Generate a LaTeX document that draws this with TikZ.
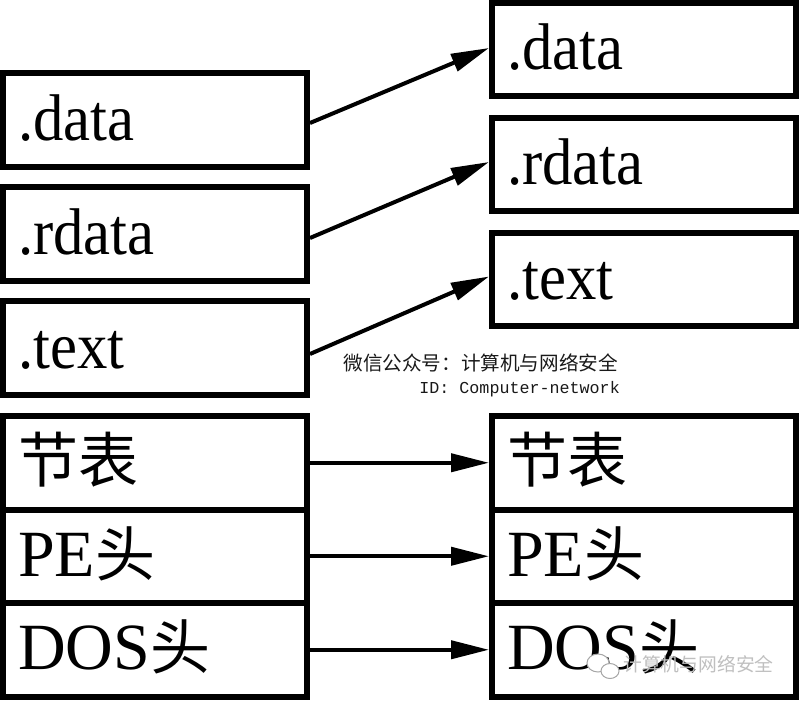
\documentclass[tikz,border=0pt]{standalone}
\usepackage{fontspec}
\setmainfont{Liberation Serif}
\setmonofont{Liberation Mono}
\newfontfamily\cjk{Noto Sans CJK SC}
\newfontfamily\narrowserif[FakeStretch=0.92]{Liberation Serif}
\usetikzlibrary{arrows.meta}
\newcommand\zhtxt[1]{{\cjk\fontsize{60}{60}\selectfont #1}}
\newcommand\sectxt[1]{{\narrowserif #1}}
\begin{document}
\begin{tikzpicture}[x=1pt,y=-1pt,
  box/.style={draw, line width=6pt, minimum width=304pt, minimum height=93.5pt,
    inner xsep=15pt, inner ysep=0pt, text width=274pt, align=left,
    text height=46pt, text depth=6pt, font=\fontsize{66}{66}\selectfont},
  link/.style={line width=4pt, -{Triangle[length=38pt,width=18pt]}},
  wmark/.style={inner sep=0pt, text=black!90}]
\useasboundingbox (0,0) rectangle (799,701);
% left column
\node[box] (ldata)  at (155,120)    {\sectxt{.data}};
\node[box] (lrdata) at (155,234)    {\sectxt{.rdata}};
\node[box] (ltext)  at (155,348)    {\sectxt{.text}};
\node[box] (lsec)   at (155,462.75) {\zhtxt{节表}};
\node[box] (lpe)    at (155,556.25) {PE\zhtxt{头}};
\node[box] (ldos)   at (155,649.75) {DOS\zhtxt{头}};
% right column
\node[box] (rdata)  at (644,49.5)   {\sectxt{.data}};
\node[box] (rrdata) at (644,164.5)  {\sectxt{.rdata}};
\node[box] (rtext)  at (644,279.5)  {\sectxt{.text}};
\node[box] (rsec)   at (644,462.75) {\zhtxt{节表}};
\node[box] (rpe)    at (644,556.25) {PE\zhtxt{头}};
\node[box] (rdos)   at (644,649.75) {DOS\zhtxt{头}};
% connectors
\draw[link] ([yshift=-3pt]ldata.east)  -- ([yshift=1.5pt]rdata.west);
\draw[link] ([yshift=-4pt]lrdata.east) -- ([yshift=2.5pt]rrdata.west);
\draw[link] ([yshift=-6pt]ltext.east)  -- ([yshift=3pt]rtext.west);
\draw[link] (lsec.east) -- (rsec.west);
\draw[link] (lpe.east)  -- (rpe.west);
\draw[link] (ldos.east) -- (rdos.west);
% watermarks
\node[wmark, anchor=base east, font=\cjk\fontsize{19.6}{19.6}\selectfont] (wm1) at (618,370) {微信公众号：计算机与网络安全};
\node[wmark, anchor=base east, font=\ttfamily\fontsize{16.7}{16.7}\selectfont] (wm2) at (620,393) {ID: Computer-network};
\draw[black!35, line width=1pt, fill=white] (598,663) ellipse (11 and 9);
\draw[black!35, line width=1pt, fill=white] (610,671) ellipse (9 and 7.5);
\node[inner sep=0pt, anchor=base west, text=black!25, font=\cjk\fontsize{18.8}{18.8}\selectfont] (wm3) at (623,671) {计算机与网络安全};
\end{tikzpicture}
\end{document}
